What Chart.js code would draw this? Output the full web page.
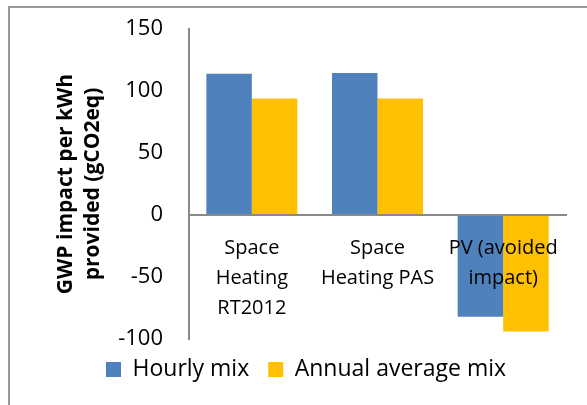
<!DOCTYPE html>
<html>
<head>
<meta charset="utf-8">
<script src="https://cdn.jsdelivr.net/npm/chart.js@4"></script>
<style>
  html, body { margin: 0; padding: 0; background: #fff; }
  #wrap { position: relative; width: 587px; height: 405px; overflow: hidden; }
  #frame {
    position: absolute; left: 8px; top: 6px; width: 700px; height: 500px;
    border-top: 2px solid #9a9a9a; border-left: 2px solid #9a9a9a;
  }
  canvas { position: absolute; left: 0; top: 0; }
</style>
</head>
<body>
<div id="wrap">
  <div id="frame"></div>
  <canvas id="chart" width="587" height="405"></canvas>
</div>
<script>
/* ── Data ─────────────────────────────────────────────────────── */
const categories = [
  ['Space', 'Heating', 'RT2012'],
  ['Space', 'Heating PAS'],
  ['PV (avoided', 'impact)'],
];
const hourlyMix = [114, 114.5, -82];
const annualMix = [94, 94, -94];
const seriesNames = ['Hourly mix', 'Annual average mix'];
const yTicks = { min: -100, max: 150, step: 50 };
const yTitle = ['GWP impact per kWh', 'provided (gCO2eq)'];

const FONT = "'Open Sans', sans-serif";
const AXIS = '#8a8a8a';

/* ── Chart ────────────────────────────────────────────────────── */
new Chart(document.getElementById('chart'), {
  type: 'bar',
  data: {
    labels: categories,
    datasets: [
      { label: seriesNames[0], data: hourlyMix, backgroundColor: '#4f81bd' },
      { label: seriesNames[1], data: annualMix, backgroundColor: '#ffc000' },
    ],
  },
  options: {
    responsive: false,
    animation: false,
    events: [],
    categoryPercentage: 0.724,
    barPercentage: 1,
    layout: { padding: { left: 46, right: 21, top: 29, bottom: 14 } },
    plugins: {
      tooltip: { enabled: false },
      legend: {
        position: 'bottom',
        labels: {
          color: '#000',
          font: { family: FONT, size: 23 },
          boxWidth: 15,
          boxHeight: 15,
          padding: 19,
        },
      },
    },
    scales: {
      x: {
        position: { y: 0 },
        grid: { display: false, drawTicks: false },
        border: { color: AXIS, width: 2, z: 1 },
        ticks: {
          z: 1,
          color: '#000',
          padding: 18,
          maxRotation: 0,
          autoSkip: false,
          font: { family: FONT, size: 20, lineHeight: 1.5 },
        },
      },
      y: {
        min: yTicks.min,
        max: yTicks.max,
        // tick marks hidden; tickLength only spaces the labels from the axis
        grid: { display: false, drawTicks: true, tickLength: 26 },
        border: { color: AXIS, width: 2 },
        ticks: {
          stepSize: yTicks.step,
          color: '#000',
          padding: 0,
          font: { family: FONT, size: 22 },
        },
        title: {
          display: true,
          text: yTitle,
          color: '#000',
          padding: { top: 6, bottom: 0 },
          font: { family: FONT, size: 21, weight: 'bold', lineHeight: 1.29 },
        },
        afterFit: (s) => { s.width = 143; },
      },
    },
  },
});
</script>
</body>
</html>
